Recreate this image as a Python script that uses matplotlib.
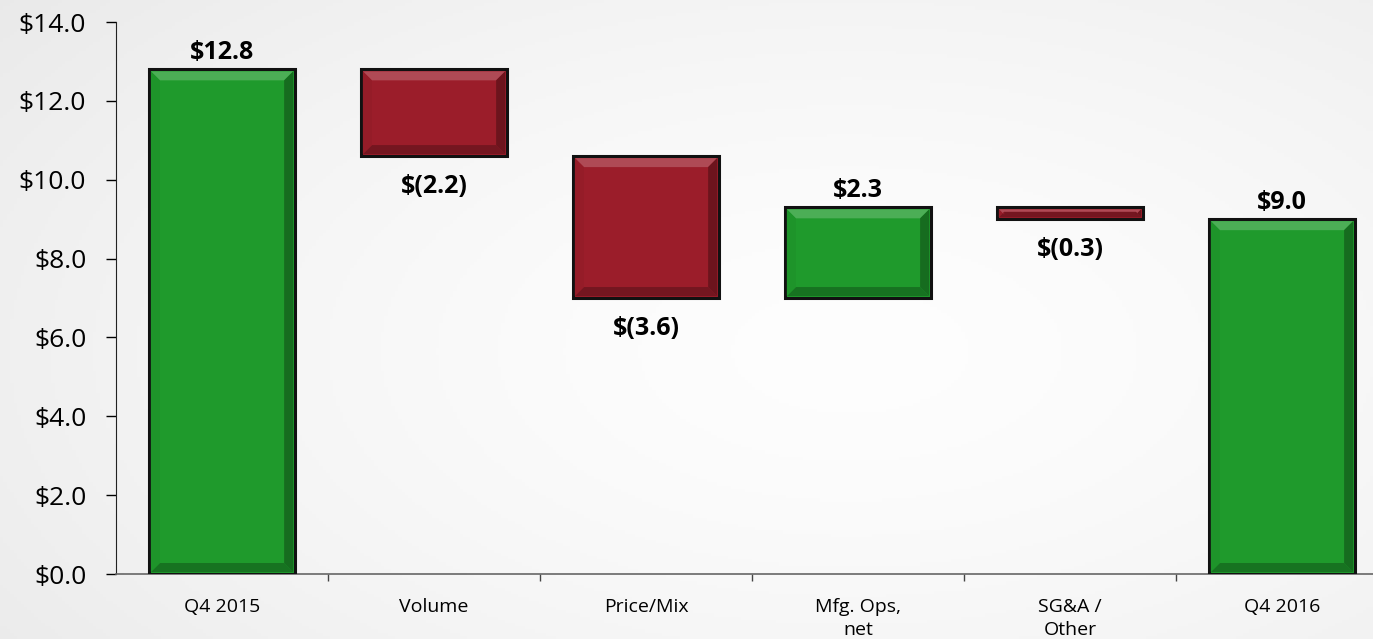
import numpy as np
import matplotlib.pyplot as plt
from matplotlib.patches import Polygon, Rectangle

categories = ["Q4 2015", "Volume", "Price/Mix", "Mfg. Ops,\nnet", "SG&A /\nOther", "Q4 2016"]
changes = [12.8, -2.2, -3.6, 2.3, -0.3, 9.0]
is_total = [True, False, False, False, False, True]
labels = ["$12.8", "$(2.2)", "$(3.6)", "$2.3", "$(0.3)", "$9.0"]
yticks = [0, 2, 4, 6, 8, 10, 12, 14]

GREEN = "#1f9a2c"
RED = "#9b1d2a"
FONT = ["Open Sans", "DejaVu Sans"]

fig = plt.figure(figsize=(13.73, 6.39), dpi=100)

# soft grey background, lighter in the middle
bg = fig.add_axes([0, 0, 1, 1], zorder=-10)
yy, xx = np.mgrid[0:1:200j, 0:1:400j]
r = np.clip(np.hypot((xx - 0.62) / 0.8, (yy - 0.55) / 0.9), 0, 1)
shade = 0.995 - 0.08 * r ** 1.5
bg.imshow(np.dstack([shade] * 3), aspect="auto", extent=[0, 1, 0, 1])
bg.axis("off")

ax = fig.add_axes([0.0845, 0.1017, 0.9264, 0.8638])
ax.patch.set_alpha(0)
ax.set_xlim(-0.5, len(categories) - 0.5)
ax.set_ylim(0, 14)

# pixels -> data units for the bevel
px_x = 1.0 / 212.0
px_y = 14.0 / 552.0


def shade_col(c, f):
    rgb = np.array(plt.matplotlib.colors.to_rgb(c))
    if f > 0:
        return tuple(rgb + (1 - rgb) * f)
    return tuple(rgb * (1 + f))


def bevel_bar(x0, x1, y0, y1, color):
    ax.add_patch(Rectangle((x0, y0), x1 - x0, y1 - y0, facecolor=color,
                           edgecolor="#111111", linewidth=2.2, zorder=3))
    b = min(9, (y1 - y0) / px_y / 2.2)
    bx, by = b * px_x, b * px_y
    i0, i1 = x0 + 2 * px_x, x1 - 2 * px_x
    j0, j1 = y0 + 2 * px_y, y1 - 2 * px_y
    top = [(i0, j1), (i1, j1), (i1 - bx, j1 - by), (i0 + bx, j1 - by)]
    bot = [(i0, j0), (i1, j0), (i1 - bx, j0 + by), (i0 + bx, j0 + by)]
    left = [(i0, j0), (i0, j1), (i0 + bx, j1 - by), (i0 + bx, j0 + by)]
    right = [(i1, j0), (i1, j1), (i1 - bx, j1 - by), (i1 - bx, j0 + by)]
    for poly, f in [(top, 0.2), (bot, -0.25), (left, -0.04), (right, -0.3)]:
        ax.add_patch(Polygon(poly, closed=True, facecolor=shade_col(color, f),
                             edgecolor="none", zorder=4))


width = 0.69
running = 0.0
for i, (ch, tot, lab) in enumerate(zip(changes, is_total, labels)):
    if tot:
        bottom, top = 0.0, ch
        running = ch
    else:
        start = running
        running = running + ch
        bottom, top = min(start, running), max(start, running)
    color = GREEN if ch > 0 else RED
    bevel_bar(i - width / 2, i + width / 2, bottom, top, color)
    if ch > 0:
        ax.annotate(lab, (i, top), xytext=(0, 3), textcoords="offset points",
                    ha="center", va="bottom", fontsize=18, fontweight="bold", family=FONT)
    else:
        ax.annotate(lab, (i, bottom), xytext=(0, -13), textcoords="offset points",
                    ha="center", va="top", fontsize=18, fontweight="bold", family=FONT)

ax.set_yticks(yticks)
ax.set_yticklabels([f"${v:.1f}" for v in yticks], fontsize=19, family=FONT)
ax.tick_params(axis="y", length=7.5, width=1, direction="out", pad=14)

ax.set_xticks(np.arange(len(categories)))
ax.set_xticklabels(categories, fontsize=14, family=FONT, linespacing=1.35)
ax.set_xticks(np.arange(len(categories) - 1) + 0.5, minor=True)
ax.tick_params(axis="x", which="major", length=0, pad=17)
ax.tick_params(axis="x", which="minor", length=5, width=1, color="#444444")

for side in ["top", "right"]:
    ax.spines[side].set_visible(False)
ax.spines["left"].set_color("#222222")
ax.spines["bottom"].set_color("#666666")
ax.spines["bottom"].set_linewidth(1.2)

fig.savefig("out.png", dpi=100)
